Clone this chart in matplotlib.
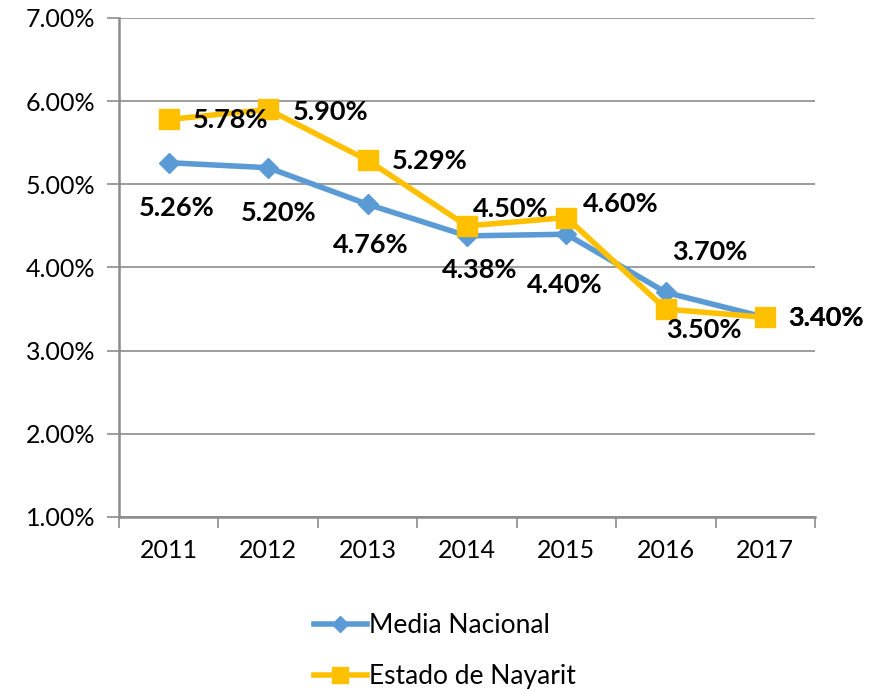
import matplotlib
matplotlib.use("Agg")
import matplotlib.pyplot as plt
from matplotlib.ticker import MultipleLocator, FuncFormatter, FixedLocator

plt.rcParams['font.family'] = ['Lato', 'DejaVu Sans']

years = ["2011", "2012", "2013", "2014", "2015", "2016", "2017"]
media_nacional = [5.26, 5.20, 4.76, 4.38, 4.40, 3.70, 3.40]
nayarit = [5.78, 5.90, 5.29, 4.50, 4.60, 3.50, 3.40]

# label offsets in pixels (dx, dy), positive dy = up
media_off = [(8, -45), (10, -45), (3, -41), (13, -34), (-2, -51), (44, 40), (61, -1)]
nay_off = [(62, -1), (62, -3), (62, -1), (44, 17), (54, 14), (38, -21), (61, -1)]

fig = plt.figure(figsize=(8.86, 6.91), dpi=100)
ax = fig.add_axes([119/886, 1-517/691, 696/886, 499/691])

x = list(range(len(years)))
blue = "#5B9BD5"
yellow = "#FFC000"
ax.plot(x, media_nacional, color=blue, lw=4.0, marker="D", ms=10, label="Media Nacional", zorder=3)
ax.plot(x, nayarit, color=yellow, lw=4.0, marker="s", ms=14, label="Estado de Nayarit", zorder=4)

for xi, v, (dx, dy) in zip(x, media_nacional, media_off):
    ax.annotate(f"{v:.2f}%", (xi, v), xytext=(dx, dy), textcoords="offset pixels",
                ha="center", va="center", fontsize=19.5, fontweight="bold", zorder=5)
for xi, v, (dx, dy) in zip(x, nayarit, nay_off):
    ax.annotate(f"{v:.2f}%", (xi, v), xytext=(dx, dy), textcoords="offset pixels",
                ha="center", va="center", fontsize=19.5, fontweight="bold", zorder=6)

ax.set_xlim(-0.5, 6.5)
ax.set_ylim(1.0, 7.0)
ax.yaxis.set_major_locator(MultipleLocator(1.0))
ax.yaxis.set_major_formatter(FuncFormatter(lambda v, p: f"{v:.2f}%"))
ax.grid(axis="y", color="#8c8c8c", lw=1.2)
ax.set_axisbelow(True)

ax.set_xticks(x)
ax.set_xticklabels(years)
ax.xaxis.set_minor_locator(FixedLocator([i - 0.5 for i in range(len(years) + 1)]))
ax.tick_params(axis="x", which="major", length=0, pad=16, labelsize=18)
ax.tick_params(axis="x", which="minor", length=8, color="#8c8c8c", width=1.2)
ax.tick_params(axis="y", length=9, color="#8c8c8c", width=1.2, labelsize=18, pad=8)

for s in ["top", "right"]:
    ax.spines[s].set_visible(False)
for s in ["left", "bottom"]:
    ax.spines[s].set_color("#8c8c8c")
    ax.spines[s].set_linewidth(1.8)

leg = fig.legend(loc="center left", bbox_to_anchor=(290/886, 1-651/691), frameon=False,
                 fontsize=19, handlelength=2.0, handletextpad=0.1, labelspacing=1.0,
                 markerscale=0.85)

fig.savefig("out.png", dpi=100)
